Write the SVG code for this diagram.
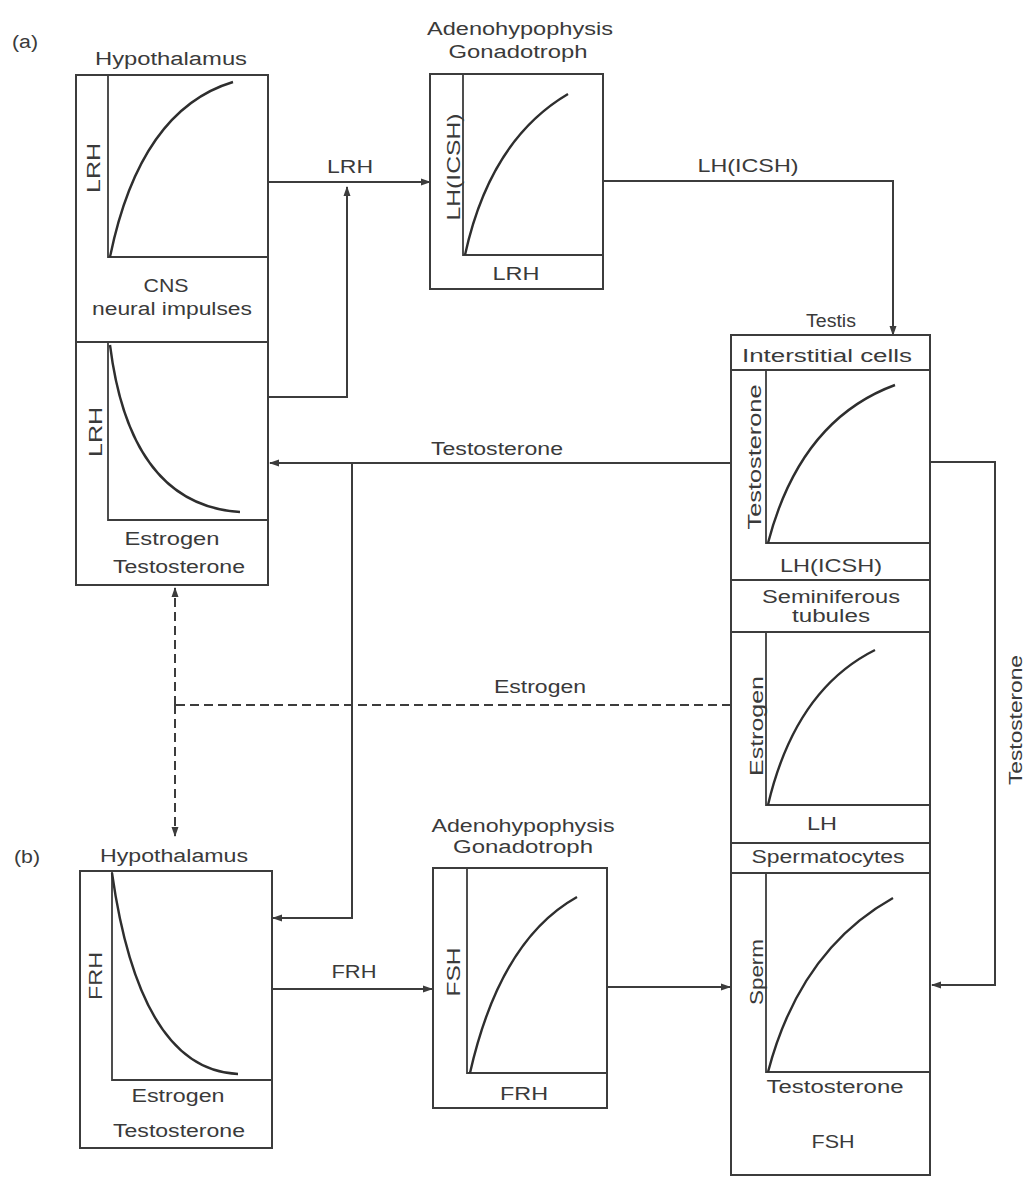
<svg xmlns="http://www.w3.org/2000/svg" width="1024" height="1180" viewBox="0 0 1024 1180">
<defs>
<style>
.box{fill:none;stroke:#3c3c3c;stroke-width:2}
.ax{fill:none;stroke:#3c3c3c;stroke-width:1.8}
.cv{fill:none;stroke:#2e2e2e;stroke-width:2.4}
.ln{fill:none;stroke:#3c3c3c;stroke-width:2}
.dash{fill:none;stroke:#3c3c3c;stroke-width:2;stroke-dasharray:9 5}
text{font-family:"Liberation Sans","DejaVu Sans",Arial,sans-serif;font-size:18px;fill:#3a3a3a;text-anchor:middle}
</style>
<marker id="ar" markerWidth="10" markerHeight="8" refX="9" refY="4" orient="auto" markerUnits="userSpaceOnUse">
<path d="M0,0.5 L10,4 L0,7.5 Z" fill="#3c3c3c"/>
</marker>
</defs>
<rect width="1024" height="1180" fill="#ffffff"/>

<text x="25" y="48" textLength="26" lengthAdjust="spacingAndGlyphs">(a)</text>
<text x="27" y="863" textLength="26" lengthAdjust="spacingAndGlyphs">(b)</text>

<g id="hypothalamus-a">
<text x="171" y="65" textLength="152" lengthAdjust="spacingAndGlyphs">Hypothalamus</text>
<rect class="box" x="76" y="75" width="192" height="510"/>
<line class="box" x1="76" y1="342" x2="268" y2="342"/>
<path class="ax" d="M108,75 V257 H268"/>
<path class="cv" d="M110,257 Q140,110 233,82"/>
<text transform="rotate(-90 100 168)" x="100" y="168" textLength="50" lengthAdjust="spacingAndGlyphs">LRH</text>
<text x="166" y="292" textLength="45" lengthAdjust="spacingAndGlyphs">CNS</text>
<text x="172" y="315" textLength="160" lengthAdjust="spacingAndGlyphs">neural impulses</text>
<path class="ax" d="M108,342 V520 H268"/>
<path class="cv" d="M110,345 Q130,505 240,512"/>
<text transform="rotate(-90 102 432)" x="102" y="432" textLength="50" lengthAdjust="spacingAndGlyphs">LRH</text>
<text x="172" y="545" textLength="95" lengthAdjust="spacingAndGlyphs">Estrogen</text>
<text x="179" y="573" textLength="132" lengthAdjust="spacingAndGlyphs">Testosterone</text>
</g>

<g id="adenohypophysis-a">
<text x="520" y="35" textLength="186" lengthAdjust="spacingAndGlyphs">Adenohypophysis</text>
<text x="518" y="58" textLength="139" lengthAdjust="spacingAndGlyphs">Gonadotroph</text>
<rect class="box" x="430" y="74" width="173" height="215"/>
<path class="ax" d="M463,74 V255 H603"/>
<path class="cv" d="M465,255 Q490,140 568,94"/>
<text transform="rotate(-90 460 167)" x="460" y="167" textLength="107" lengthAdjust="spacingAndGlyphs">LH(ICSH)</text>
<text x="516" y="280" textLength="47" lengthAdjust="spacingAndGlyphs">LRH</text>
</g>

<g id="testis">
<text x="831" y="327" textLength="50" lengthAdjust="spacingAndGlyphs">Testis</text>
<rect class="box" x="731" y="335" width="199" height="840"/>
<line class="box" x1="731" y1="370" x2="930" y2="370"/>
<line class="box" x1="731" y1="580" x2="930" y2="580"/>
<line class="box" x1="731" y1="632" x2="930" y2="632"/>
<line class="box" x1="731" y1="843" x2="930" y2="843"/>
<line class="box" x1="731" y1="873" x2="930" y2="873"/>
<text x="827" y="362" textLength="170" lengthAdjust="spacingAndGlyphs">Interstitial cells</text>
<path class="ax" d="M766,370 V543 H930"/>
<path class="cv" d="M768,543 Q800,420 895,385"/>
<text transform="rotate(-90 761 457)" x="761" y="457" textLength="145" lengthAdjust="spacingAndGlyphs">Testosterone</text>
<text x="831" y="572" textLength="102" lengthAdjust="spacingAndGlyphs">LH(ICSH)</text>
<text x="831" y="603" textLength="138" lengthAdjust="spacingAndGlyphs">Seminiferous</text>
<text x="831" y="622" textLength="78" lengthAdjust="spacingAndGlyphs">tubules</text>
<path class="ax" d="M766,632 V805 H930"/>
<path class="cv" d="M768,805 Q795,690 875,650"/>
<text transform="rotate(-90 763 726)" x="763" y="726" textLength="100" lengthAdjust="spacingAndGlyphs">Estrogen</text>
<text x="822" y="830" textLength="30" lengthAdjust="spacingAndGlyphs">LH</text>
<text x="828" y="863" textLength="153" lengthAdjust="spacingAndGlyphs">Spermatocytes</text>
<path class="ax" d="M766,873 V1072 H930"/>
<path class="cv" d="M768,1072 Q800,950 893,898"/>
<text transform="rotate(-90 763 972)" x="763" y="972" textLength="66" lengthAdjust="spacingAndGlyphs">Sperm</text>
<text x="835" y="1093" textLength="137" lengthAdjust="spacingAndGlyphs">Testosterone</text>
<text x="833" y="1148" textLength="43" lengthAdjust="spacingAndGlyphs">FSH</text>
</g>

<g id="hypothalamus-b">
<text x="174" y="862" textLength="148" lengthAdjust="spacingAndGlyphs">Hypothalamus</text>
<rect class="box" x="80" y="871" width="192" height="277"/>
<path class="ax" d="M112,871 V1080 H272"/>
<path class="cv" d="M112,873 Q140,1070 238,1074"/>
<text transform="rotate(-90 102 976)" x="102" y="976" textLength="48" lengthAdjust="spacingAndGlyphs">FRH</text>
<text x="178" y="1102" textLength="93" lengthAdjust="spacingAndGlyphs">Estrogen</text>
<text x="179" y="1137" textLength="132" lengthAdjust="spacingAndGlyphs">Testosterone</text>
</g>

<g id="adenohypophysis-b">
<text x="523" y="832" textLength="183" lengthAdjust="spacingAndGlyphs">Adenohypophysis</text>
<text x="523" y="853" textLength="140" lengthAdjust="spacingAndGlyphs">Gonadotroph</text>
<rect class="box" x="433" y="868" width="174" height="240"/>
<path class="ax" d="M467,868 V1073 H607"/>
<path class="cv" d="M470,1073 Q500,940 577,897"/>
<text transform="rotate(-90 460 972)" x="460" y="972" textLength="49" lengthAdjust="spacingAndGlyphs">FSH</text>
<text x="524" y="1100" textLength="48" lengthAdjust="spacingAndGlyphs">FRH</text>
</g>

<g id="connectors">
<path class="ln" d="M268,182 H430" marker-end="url(#ar)"/>
<text x="350" y="173" textLength="46" lengthAdjust="spacingAndGlyphs">LRH</text>
<path class="ln" d="M268,397 H347 V187" marker-end="url(#ar)"/>
<path class="ln" d="M603,181 H893 V335" marker-end="url(#ar)"/>
<text x="748" y="172" textLength="101" lengthAdjust="spacingAndGlyphs">LH(ICSH)</text>
<path class="ln" d="M731,463 H270" marker-end="url(#ar)"/>
<text x="497" y="455" textLength="132" lengthAdjust="spacingAndGlyphs">Testosterone</text>
<path class="ln" d="M352,463 V918 H273" marker-end="url(#ar)"/>
<path class="ln" d="M930,462 H995 V985 H932" marker-end="url(#ar)"/>
<text transform="rotate(-90 1022 720)" x="1022" y="720" textLength="130" lengthAdjust="spacingAndGlyphs">Testosterone</text>
<path class="dash" d="M731,705 H175"/>
<text x="540" y="693" textLength="92" lengthAdjust="spacingAndGlyphs">Estrogen</text>
<path class="dash" d="M175,705 V588" marker-end="url(#ar)"/>
<path class="dash" d="M175,705 V836" marker-end="url(#ar)"/>
<path class="ln" d="M272,989 H432" marker-end="url(#ar)"/>
<text x="354" y="978" textLength="45" lengthAdjust="spacingAndGlyphs">FRH</text>
<path class="ln" d="M607,987 H730" marker-end="url(#ar)"/>
</g>
</svg>
